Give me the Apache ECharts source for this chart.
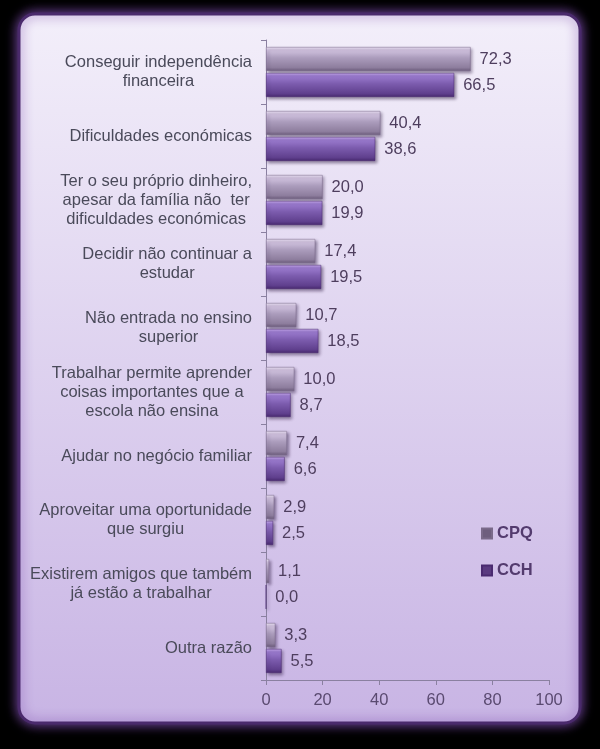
<!DOCTYPE html>
<html><head><meta charset="utf-8">
<script src="https://cdn.jsdelivr.net/npm/echarts@6/dist/echarts.min.js"></script>
<style>html,body{margin:0;padding:0;background:#000;}#c{width:600px;height:749px;}</style>
</head><body><div id="c"></div>
<script>
const categories = [
  "Conseguir independência\nfinanceira",
  "Dificuldades económicas",
  "Ter o seu próprio dinheiro,\napesar da família não  ter\ndificuldades económicas",
  "Decidir não continuar a\nestudar",
  "Não entrada no ensino\nsuperior",
  "Trabalhar permite aprender\ncoisas importantes que a\nescola não ensina",
  "Ajudar no negócio familiar",
  "Aproveitar uma oportunidade\nque surgiu",
  "Existirem amigos que também\njá estão a trabalhar",
  "Outra razão"
];
const cpq = [72.3, 40.4, 20.0, 17.4, 10.7, 10.0, 7.4, 2.9, 1.1, 3.3];
const cch = [66.5, 38.6, 19.9, 19.5, 18.5, 8.7, 6.6, 2.5, 0.0, 5.5];
const xTicks = [0, 20, 40, 60, 80, 100];

const chart = echarts.init(document.getElementById('c'));
const font = "'Liberation Sans', Arial, sans-serif";
const fs = 16.5;
function grad(stops){ return new echarts.graphic.LinearGradient(0,0,0,1, stops.map(c=>({offset:c[0], color:c[1]}))); }
const cpqColor = grad([[0,'#eee6f6'],[0.12,'#d2c4e0'],[0.45,'#ab9cbc'],[0.85,'#8e7e9e'],[1,'#6c5c7c']]);
const cchColor = grad([[0,'#c8aef0'],[0.12,'#9c7cd0'],[0.45,'#7c5cae'],[0.85,'#60408e'],[1,'#482a70']]);
const lbl = {show:true, position:'right', distance:9, color:'#4e3e5e', fontSize:fs, fontFamily:font,
  formatter: p => p.value.toFixed(1).replace('.', ',')};
chart.setOption({
  backgroundColor:'#000',
  animation:false,
  graphic:[{type:'rect', z:-10, shape:{x:19, y:14, width:561, height:709, r:16},
    style:{fill: new echarts.graphic.LinearGradient(0,0,0,1,[{offset:0,color:'#f3effa'},{offset:1,color:'#c8b4e4'}]),
      stroke:'#4a2a6c', lineWidth:3, shadowColor:'#7a4aaa', shadowBlur:12}}],
  legend:{orient:'vertical', left:476, top:520, itemGap:20, itemWidth:10, itemHeight:10, icon:'rect',
    textStyle:{fontSize:fs, fontWeight:'bold', color:'#533b6e', fontFamily:font},
    data:[{name:'CPQ', itemStyle:{color:'#6e5e7e'}},{name:'CCH', itemStyle:{color:'#5a3a80'}}]},
  grid:{left:266, right:51, top:40, bottom:69, containLabel:false},
  xAxis:{type:'value', min:0, max:100, interval:20, splitLine:{show:false},
    axisLine:{show:true, lineStyle:{color:'#8a80a0'}},
    axisTick:{show:true, length:5, lineStyle:{color:'#8a80a0'}},
    axisLabel:{color:'#5a4a70', fontSize:fs, fontFamily:font, margin:12,
      formatter: v => xTicks.includes(v) ? String(v) : ''}},
  yAxis:{type:'category', inverse:true, data:categories,
    axisLine:{show:true, lineStyle:{color:'#8a80a0'}},
    axisTick:{show:true, length:5, lineStyle:{color:'#8a80a0'}},
    axisLabel:{margin:14, fontSize:fs, fontFamily:font, color:'#4a4a5a', lineHeight:19,
      formatter: v => v.split('\n').map(l => '{c|' + l + '}').join('\n'),
      rich:{c:{align:'center', fontSize:fs, fontFamily:font, color:'#4a4a5a', lineHeight:19}}}},
  series:[
    {name:'CPQ', type:'bar', data:cpq, barWidth:24, barGap:'8%', label:lbl,
      itemStyle:{color:cpqColor, borderColor:'#7a6a8a', borderWidth:0.5, shadowColor:'rgba(40,20,60,0.45)', shadowBlur:3, shadowOffsetX:2, shadowOffsetY:2}},
    {name:'CCH', type:'bar', data:cch, barWidth:24, label:lbl,
      itemStyle:{color:cchColor, borderColor:'#4a2a70', borderWidth:0.5, shadowColor:'rgba(40,20,60,0.45)', shadowBlur:3, shadowOffsetX:2, shadowOffsetY:2}}
  ]
});
</script></body></html>
